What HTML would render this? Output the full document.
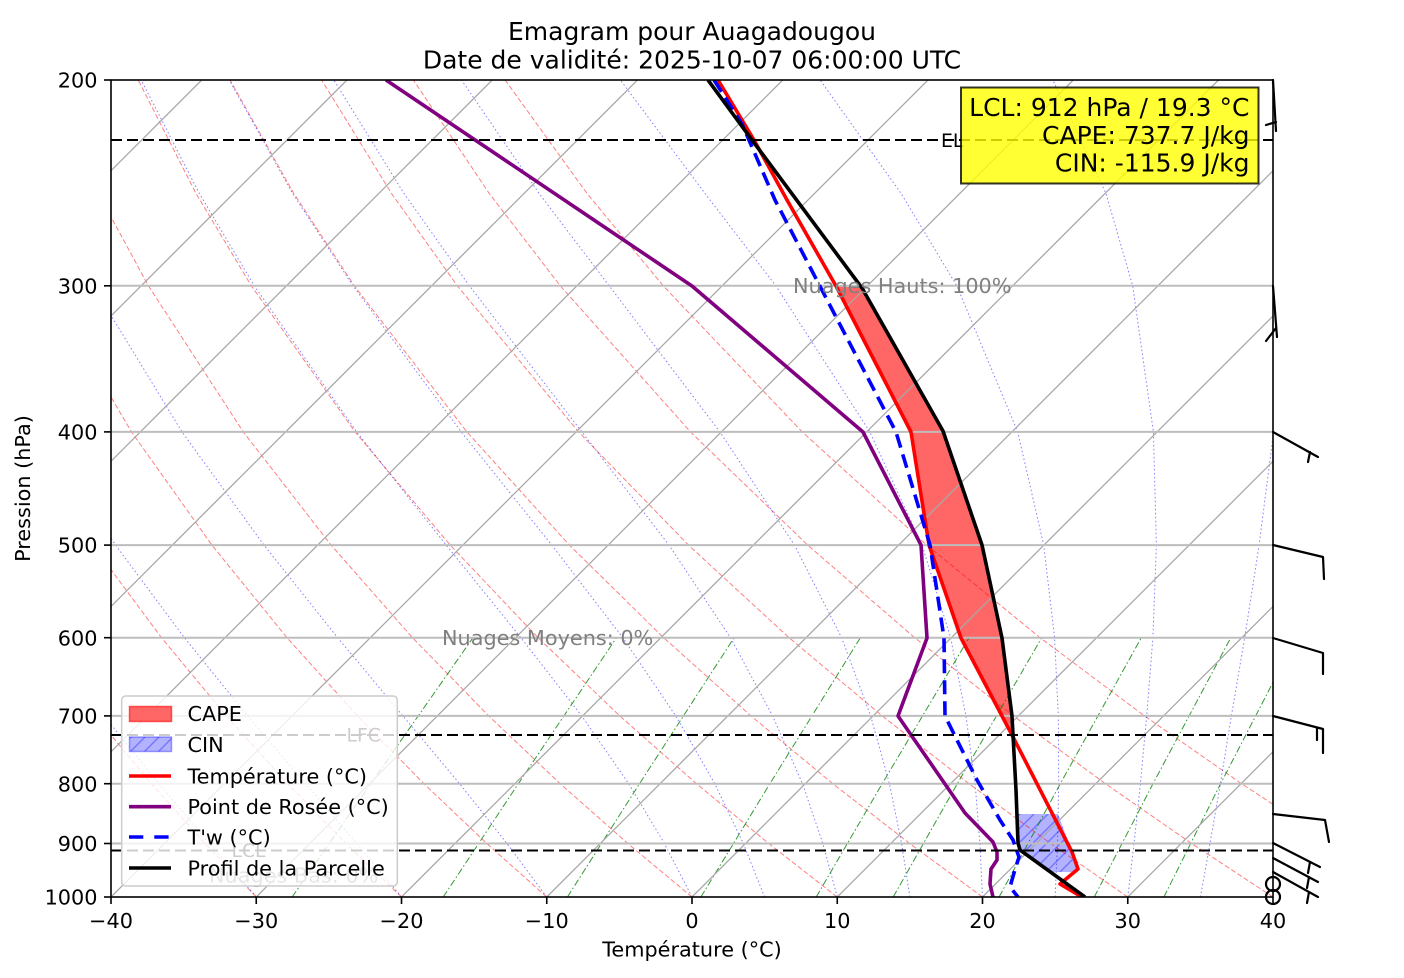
<!DOCTYPE html>
<html><head><meta charset="utf-8"><style>
html,body{margin:0;padding:0;background:#fff;}
svg{display:block;}
text{font-family:"DejaVu Sans","Liberation Sans",sans-serif;}
</style></head><body>
<svg width="1404" height="978" viewBox="0 0 1404 978" xmlns="http://www.w3.org/2000/svg">
<defs>
<clipPath id="cp"><rect x="111" y="80" width="1162" height="817"/></clipPath>
<pattern id="hatch" patternUnits="userSpaceOnUse" width="14" height="14"><path d="M-2,2 L2,-2 M0,14 L14,0 M12,16 L16,12" stroke="rgba(0,0,255,0.35)" stroke-width="1.4"/></pattern>
</defs>
<rect width="1404" height="978" fill="#fff"/>
<g clip-path="url(#cp)">
  <polygon points="836,286 911,432 929,545 961,638 1002,716 1012,735 1013,735 1012,716 1002,638 982,545 943,431 862,288" fill="#ff6666"/>
  <polygon points="1018,814 1058,814 1076,862 1078,872 1050,872 1026,856 1019,848" fill="rgba(0,0,255,0.3)"/>
  <polygon points="1018,814 1058,814 1076,862 1078,872 1050,872 1026,856 1019,848" fill="url(#hatch)"/>
  <!-- dry adiabats -->
  <g fill="none" stroke="#ff0000" stroke-opacity="0.5" stroke-width="1" stroke-dasharray="5,2.5">
    <path d="M256.3,897 L205,843.5 L151.4,783.7 L95.1,715.9 L36,637.7"/>
    <path d="M401.5,897 L346,843.5 L287.6,783.7 L226.3,715.9 L161.5,637.7 L92.8,545.1"/>
    <path d="M546.7,897 L486.8,843.5 L423.9,783.7 L357.5,715.9 L287,637.7 L211.9,545.1 L131.5,431.9 L45.4,285.8"/>
    <path d="M692,897 L627.8,843.5 L560.2,783.7 L488.7,715.9 L412.5,637.7 L331.1,545.1 L243.3,431.9 L148.4,285.8 L98.2,193.3"/>
    <path d="M837.2,897 L768.7,843.5 L696.5,783.7 L619.8,715.9 L538,637.7 L450.2,545.1 L355.1,431.9 L251.3,285.8 L195.9,193.3 L138.2,80"/>
    <path d="M982.5,897 L909.7,843.5 L832.8,783.7 L751,715.9 L663.6,637.7 L569.4,545.1 L466.9,431.9 L354.3,285.8 L293.7,193.3 L230,80"/>
    <path d="M1127.7,897 L1050.6,843.5 L969,783.7 L882.2,715.9 L789.1,637.7 L688.5,545.1 L578.6,431.9 L457.3,285.8 L391.4,193.3 L321.6,80"/>
    <path d="M1273,897 L1191.6,843.5 L1105.4,783.7 L1013.4,715.9 L914.7,637.7 L807.7,545.1 L690.5,431.9 L560.3,285.8 L489.1,193.3 L413.4,80"/>
    <path d="M1418.2,897 L1332.5,843.5 L1241.6,783.7 L1144.5,715.9 L1040.1,637.7 L926.8,545.1 L802.2,431.9 L663.2,285.8 L586.9,193.3 L505.1,80"/>
  </g>
  <!-- moist adiabats -->
  <g fill="none" stroke="#0000ff" stroke-opacity="0.5" stroke-width="1" stroke-dasharray="1.5,2.5">
    <path d="M256.3,897 L209.5,843.5 L158.9,783.7 L104,715.9"/>
    <path d="M401.5,897 L356.7,843.5 L305.6,783.7 L247.6,715.9 L184.4,637.7 L115.6,545.1 L41.6,431.9"/>
    <path d="M546.8,897 L507,843.5 L459.6,783.7 L402.9,715.9 L337.6,637.7 L264,545.1 L182,431.9 L93,285.8"/>
    <path d="M692,897 L664.4,843.5 L628.7,783.7 L581.7,715.9 L520.9,637.7 L446.2,545.1 L356.7,431.9 L254.3,285.8 L199.2,193.3 L141.2,80"/>
    <path d="M764.6,897 L743.3,843.5 L714.8,783.7 L675.7,715.9 L622.8,637.7 L551.8,545.1 L461.2,431.9 L353,285.8 L292.5,193.3 L229.3,80"/>
    <path d="M837.3,897 L822.8,843.5 L802.5,783.7 L772.6,715.9 L730.5,637.7 L669,545.1 L581.9,431.9 L469.4,285.8 L403.9,193.3 L333.8,80"/>
    <path d="M909.9,897 L901.6,843.5 L889.4,783.7 L870.7,715.9 L841.6,637.7 L794.5,545.1 L719.9,431.9 L609.2,285.8 L539,193.3 L461.5,80"/>
    <path d="M982.5,897 L979.9,843.5 L975.1,783.7 L965.9,715.9 L950.6,637.7 L922.1,545.1 L869.8,431.9 L775.8,285.8 L704.9,193.3 L620.4,80"/>
    <path d="M1055.1,897 L1057.5,843.5 L1058.7,783.7 L1058.3,715.9 L1054.6,637.7 L1043.7,545.1 L1017.7,431.9 L956.8,285.8 L901,193.3 L820.1,80"/>
    <path d="M1127.8,897 L1134,843.5 L1140.4,783.7 L1146.7,715.9 L1152.9,637.7 L1156.4,545.1 L1153.4,431.9 L1132.7,285.8 L1105.9,193.3 L1052.8,80"/>
    <path d="M1200.4,897 L1210,843.5 L1220.4,783.7 L1231.4,715.9 L1244.7,637.7 L1259.1,545.1 L1273.6,431.9 L1284.7,285.8 L1286.2,193.3 L1271.8,80"/>
  </g>
  <!-- mixing ratio lines -->
  <g fill="none" stroke="#008000" stroke-opacity="0.8" stroke-width="1" stroke-dasharray="7,2.5,1.5,2.5">
    <path d="M292.1,897 L370.7,783.7 L473,637.7"/>
    <path d="M443.2,897 L518.3,783.7 L616.5,637.7"/>
    <path d="M567.4,897 L639.5,783.7 L734.1,637.7"/>
    <path d="M700.9,897 L769.9,783.7 L860.4,637.7"/>
    <path d="M816.2,897 L882.2,783.7 L969.1,637.7"/>
    <path d="M893.2,897 L957.3,783.7 L1041.7,637.7"/>
    <path d="M999.1,897 L1060.3,783.7 L1141.3,637.7"/>
    <path d="M1094.3,897 L1153,783.7 L1230.8,637.7"/>
    <path d="M1163.9,897 L1220.6,783.7 L1296.1,637.7"/>
  </g>
  <!-- skewed isotherms -->
  <g fill="none" stroke="#a8a8a8" stroke-width="1.3">
    <path d="M-615.25,897 L201.75,80"/>
    <path d="M-470,897 L347,80"/>
    <path d="M-324.75,897 L492.25,80"/>
    <path d="M-179.5,897 L637.5,80"/>
    <path d="M-34.25,897 L782.75,80"/>
    <path d="M111,897 L928,80"/>
    <path d="M256.25,897 L1073.25,80"/>
    <path d="M401.5,897 L1218.5,80"/>
    <path d="M546.75,897 L1363.75,80"/>
    <path d="M692,897 L1509,80"/>
    <path d="M837.25,897 L1654.25,80"/>
    <path d="M982.5,897 L1799.5,80"/>
    <path d="M1127.75,897 L1944.75,80"/>
  </g>
  <g stroke="#bdbdbd" stroke-width="2">
    <line x1="111" x2="1273" y1="285.8" y2="285.8"/>
    <line x1="111" x2="1273" y1="431.9" y2="431.9"/>
    <line x1="111" x2="1273" y1="545.1" y2="545.1"/>
    <line x1="111" x2="1273" y1="637.7" y2="637.7"/>
    <line x1="111" x2="1273" y1="715.9" y2="715.9"/>
    <line x1="111" x2="1273" y1="783.7" y2="783.7"/>
    <line x1="111" x2="1273" y1="843.5" y2="843.5"/>
  </g>
  <g fill="none" stroke-width="3.6" stroke-linejoin="round">
    <polyline stroke="#ff0000" points="718,80 754,140 787,200 836,286 911,432 929,545 961,638 1002,716 1012,735 1072,852 1078,869 1060,884 1082,897"/>
    <polyline stroke="#800080" points="386,80 692,286 863,432 921,545 927,638 898,716 965,813 993,842 997,852 997,860 991,869 990,884 993,897"/>
    <polyline stroke="#0000ff" stroke-dasharray="14,7" points="714,80 742,124 775,200 896,432 930,545 944,638 945,716 957,740 977,780 1000,820 1013,840 1019,857 1014,873 1010,887 1018,897"/>
    <polyline stroke="#000000" points="708,80 752,140 862,288 943,431 982,545 1002,638 1012,716 1013,735 1016,790 1018,843 1020,850 1085,897"/>
  </g>
  <g stroke="#000" stroke-width="2" stroke-dasharray="11,5">
    <line x1="111" x2="1273" y1="140" y2="140"/>
    <line x1="111" x2="1273" y1="735" y2="735"/>
    <line x1="111" x2="1273" y1="850.5" y2="850.5"/>
  </g>
</g>
<!-- annotations -->
<g font-size="20.8" fill="#808080">
  <text x="793" y="293">Nuages Hauts: 100%</text>
  <text x="442" y="645">Nuages Moyens: 0%</text>
  <text x="209" y="882.5">Nuages Bas: 0%</text>
</g>
<g font-size="18.75" fill="#000">
  <text x="941" y="146.8">EL</text>
  <text x="346.5" y="741.5">LFC</text>
  <text x="231.5" y="857">LCL</text>
</g>
<!-- axes frame -->
<rect x="111" y="80" width="1162" height="817" fill="none" stroke="#000" stroke-width="1.6"/>
<g stroke="#000" stroke-width="1.6">
  <line x1="104" x2="111" y1="80" y2="80"/>
  <line x1="104" x2="111" y1="285.8" y2="285.8"/>
  <line x1="104" x2="111" y1="431.9" y2="431.9"/>
  <line x1="104" x2="111" y1="545.1" y2="545.1"/>
  <line x1="104" x2="111" y1="637.7" y2="637.7"/>
  <line x1="104" x2="111" y1="715.9" y2="715.9"/>
  <line x1="104" x2="111" y1="783.7" y2="783.7"/>
  <line x1="104" x2="111" y1="843.5" y2="843.5"/>
  <line x1="104" x2="111" y1="897" y2="897"/>
  <line x1="111" x2="111" y1="897" y2="904"/>
  <line x1="256.25" x2="256.25" y1="897" y2="904"/>
  <line x1="401.5" x2="401.5" y1="897" y2="904"/>
  <line x1="546.75" x2="546.75" y1="897" y2="904"/>
  <line x1="692" x2="692" y1="897" y2="904"/>
  <line x1="837.25" x2="837.25" y1="897" y2="904"/>
  <line x1="982.5" x2="982.5" y1="897" y2="904"/>
  <line x1="1127.75" x2="1127.75" y1="897" y2="904"/>
  <line x1="1273" x2="1273" y1="897" y2="904"/>
</g>
<g font-size="20.8" fill="#000" text-anchor="end">
  <text x="97.5" y="87.6">200</text>
  <text x="97.5" y="293.4">300</text>
  <text x="97.5" y="439.5">400</text>
  <text x="97.5" y="552.7">500</text>
  <text x="97.5" y="645.3">600</text>
  <text x="97.5" y="723.5">700</text>
  <text x="97.5" y="791.3">800</text>
  <text x="97.5" y="851.1">900</text>
  <text x="97.5" y="904.6">1000</text>
</g>
<g font-size="20.8" fill="#000" text-anchor="middle">
  <text x="111" y="928">−40</text>
  <text x="256.25" y="928">−30</text>
  <text x="401.5" y="928">−20</text>
  <text x="546.75" y="928">−10</text>
  <text x="692" y="928">0</text>
  <text x="837.25" y="928">10</text>
  <text x="982.5" y="928">20</text>
  <text x="1127.75" y="928">30</text>
  <text x="1273" y="928">40</text>
  <text x="692" y="956.5">Température (°C)</text>
  <text transform="translate(30,488.5) rotate(-90)">Pression (hPa)</text>
</g>
<g font-size="25" fill="#000" text-anchor="middle">
  <text x="692" y="40">Emagram pour Auagadougou</text>
  <text x="692" y="68.3">Date de validité: 2025-10-07 06:00:00 UTC</text>
</g>
<!-- legend -->
<rect x="121.7" y="696" width="275.6" height="190" rx="4" ry="4" fill="#fff" fill-opacity="0.8" stroke="#cccccc" stroke-width="1.5"/>
<rect x="129.5" y="706.5" width="42" height="15" fill="#ff6666" stroke="rgba(255,0,0,0.6)" stroke-width="1.5"/>
<rect x="129.5" y="737" width="42" height="14.5" fill="rgba(0,0,255,0.3)" stroke="rgba(0,0,255,0.35)" stroke-width="1.5"/>
<rect x="129.5" y="737" width="42" height="14.5" fill="url(#hatch)"/>
<g stroke-width="3.6">
  <line x1="129" x2="171" y1="776" y2="776" stroke="#ff0000"/>
  <line x1="129" x2="171" y1="806.7" y2="806.7" stroke="#800080"/>
  <line x1="129" x2="171" y1="837" y2="837" stroke="#0000ff" stroke-dasharray="14.3,11"/>
  <line x1="129" x2="171" y1="868" y2="868" stroke="#000"/>
</g>
<g font-size="20.8" fill="#000">
  <text x="187.5" y="721">CAPE</text>
  <text x="187.5" y="752">CIN</text>
  <text x="187.5" y="783.3">Température (°C)</text>
  <text x="187.5" y="814">Point de Rosée (°C)</text>
  <text x="187.5" y="844.5">T'w (°C)</text>
  <text x="187.5" y="875.3">Profil de la Parcelle</text>
</g>
<!-- info box -->
<rect x="961" y="87.5" width="297.5" height="96" fill="#ffff00" fill-opacity="0.8" stroke="#000" stroke-opacity="0.8" stroke-width="2"/>
<g font-size="25" fill="#000" text-anchor="end">
  <text x="1249.5" y="116">LCL: 912 hPa / 19.3 °C</text>
  <text x="1249.5" y="144">CAPE: 737.7 J/kg</text>
  <text x="1249.5" y="171.7">CIN: -115.9 J/kg</text>
</g>
<!-- wind barbs -->
<g fill="none" stroke="#000" stroke-width="2.2" stroke-linecap="round" stroke-linejoin="round">
  <path d="M1273,80 L1276,131 M1276,122 L1266,125"/>
  <path d="M1273,286 L1277,337 M1276,328 L1266,341"/>
  <path d="M1273,432 L1318,457 M1310,452 L1308,462"/>
  <path d="M1273,545 L1323,557 L1324,579"/>
  <path d="M1273,638 L1323,653 L1323,674"/>
  <path d="M1273,716 L1323,729 L1323,753 M1317,728 L1317,740"/>
  <path d="M1273,814 L1325,820 L1329,842"/>
  <path d="M1273,843 L1320,867 M1310,862 L1308,873"/>
  <path d="M1273,858 L1318,882 M1309,877 L1307,888"/>
  <path d="M1273,872 L1318,897 M1309,892 L1307,903"/>
  <circle cx="1273" cy="884" r="7"/>
  <circle cx="1273" cy="897" r="7"/>
</g>
</svg>
</body></html>
